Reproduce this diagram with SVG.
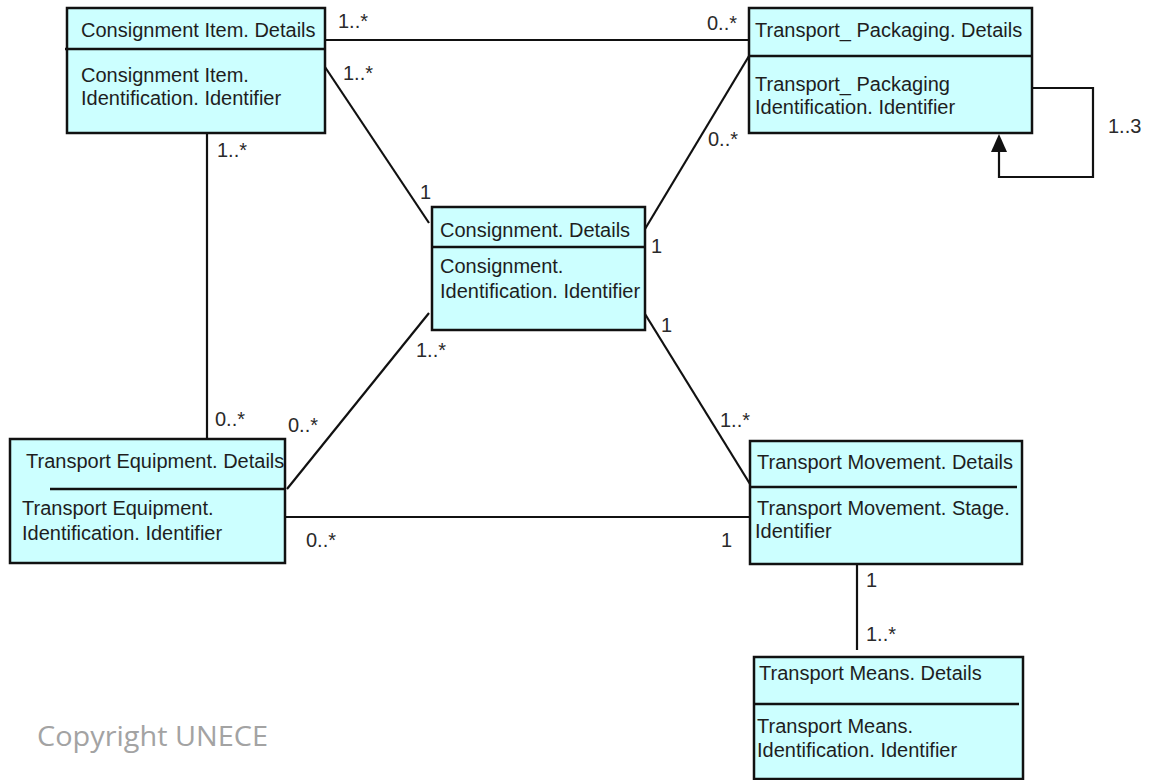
<svg xmlns="http://www.w3.org/2000/svg" width="1153" height="780" viewBox="0 0 1153 780">
<defs>
<style>
.box{fill:#ccffff;stroke:#111;stroke-width:2.5}
.div{stroke:#111;stroke-width:2.5}
.t{font-family:"Liberation Sans",Arial,sans-serif;font-size:20px;fill:#1e1e1e}
.m{font-family:"Liberation Sans",Arial,sans-serif;font-size:20px;fill:#2a2a2a}
.c{stroke:#111;stroke-width:2.2;fill:none}
.cp{font-family:"Open Sans",sans-serif;font-size:27px;fill:#a3a3a3}
</style>
</defs>
<rect width="1153" height="780" fill="#fff"/>
<g id="connectors">
<line class="c" x1="325" y1="40" x2="749" y2="40"/>
<line class="c" x1="325" y1="67" x2="429" y2="223"/>
<line class="c" x1="749" y1="56" x2="645" y2="229"/>
<line class="c" x1="207" y1="133" x2="207" y2="439"/>
<line class="c" x1="429" y1="313" x2="287" y2="489"/>
<line class="c" x1="645" y1="314" x2="750" y2="484"/>
<line class="c" x1="285" y1="517" x2="750" y2="517"/>
<line class="c" x1="857" y1="564" x2="857" y2="650"/>
<path class="c" d="M1032,88 H1093 V177 H999 V148"/>
<path d="M991,152 L999,134 L1007,152 Z" fill="#111"/>
<text class="m" x="338" y="28">1..*</text>
<text class="m" x="343" y="80">1..*</text>
<text class="m" x="217" y="157">1..*</text>
<text class="m" x="420" y="199">1</text>
<text class="m" x="707" y="30">0..*</text>
<text class="m" x="708" y="146">0..*</text>
<text class="m" x="651" y="253">1</text>
<text class="m" x="661" y="332">1</text>
<text class="m" x="416" y="357">1..*</text>
<text class="m" x="215" y="426">0..*</text>
<text class="m" x="288" y="432">0..*</text>
<text class="m" x="306" y="547">0..*</text>
<text class="m" x="720" y="427">1..*</text>
<text class="m" x="721" y="547">1</text>
<text class="m" x="866" y="587">1</text>
<text class="m" x="866" y="641">1..*</text>
<text class="m" x="1108" y="133">1..3</text>
</g>
<g id="consignment-item">
<rect class="box" x="67" y="8" width="258" height="125"/>
<line class="div" x1="65" y1="49" x2="325" y2="49"/>
<text class="t" x="81" y="37">Consignment Item. Details</text>
<text class="t" x="81" y="82">Consignment Item.</text>
<text class="t" x="81" y="105">Identification. Identifier</text>
</g>
<g id="transport-packaging">
<rect class="box" x="749" y="8" width="283" height="125"/>
<line class="div" x1="749" y1="56" x2="1032" y2="56"/>
<text class="t" x="755" y="37">Transport_ Packaging. Details</text>
<text class="t" x="755" y="91">Transport_ Packaging</text>
<text class="t" x="755" y="114">Identification. Identifier</text>
</g>
<g id="consignment">
<rect class="box" x="432" y="207" width="213" height="123"/>
<line class="div" x1="432" y1="247" x2="645" y2="247"/>
<text class="t" x="440" y="237">Consignment. Details</text>
<text class="t" x="440" y="273">Consignment.</text>
<text class="t" x="440" y="298">Identification. Identifier</text>
</g>
<g id="transport-equipment">
<rect class="box" x="10" y="439" width="275" height="124"/>
<line class="div" x1="50" y1="489" x2="285" y2="489"/>
<text class="t" x="26" y="468">Transport Equipment. Details</text>
<text class="t" x="22" y="515">Transport Equipment.</text>
<text class="t" x="22" y="540">Identification. Identifier</text>
</g>
<g id="transport-movement">
<rect class="box" x="750" y="441" width="272" height="123"/>
<line class="div" x1="750" y1="487" x2="1017" y2="487"/>
<text class="t" x="757" y="469">Transport Movement. Details</text>
<text class="t" x="757" y="515">Transport Movement. Stage.</text>
<text class="t" x="755" y="538">Identifier</text>
</g>
<g id="transport-means">
<rect class="box" x="754" y="657" width="269" height="122"/>
<line class="div" x1="754" y1="704" x2="1019" y2="704"/>
<text class="t" x="759" y="680">Transport Means. Details</text>
<text class="t" x="757" y="733">Transport Means.</text>
<text class="t" x="757" y="757">Identification. Identifier</text>
</g>
<text class="cp" x="37" y="746" textLength="231" lengthAdjust="spacingAndGlyphs">Copyright UNECE</text>
</svg>
